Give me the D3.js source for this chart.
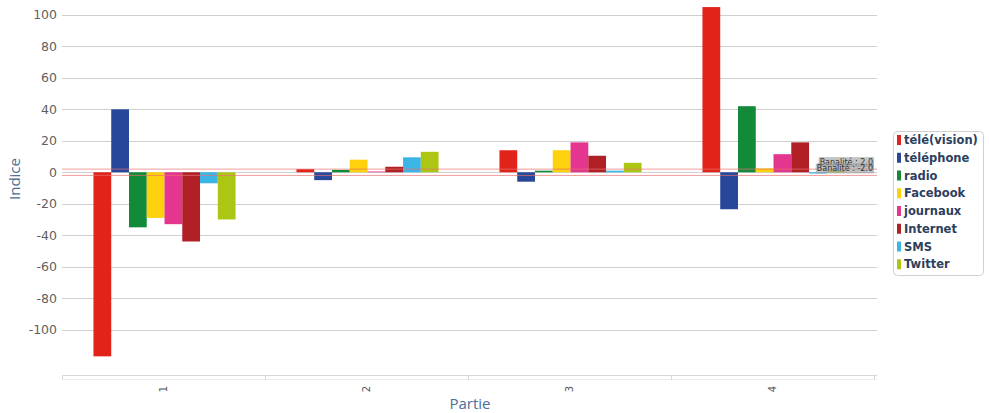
<!DOCTYPE html>
<html>
<head>
<meta charset="utf-8">
<script src="https://cdn.jsdelivr.net/npm/d3@7/dist/d3.min.js"></script>
<style>
  body { margin: 0; background: #fff; }
  text { font-family: "DejaVu Sans", sans-serif; }
</style>
</head>
<body>
<div id="chart"></div>
<script>
// categories (x) and series
var parties = ["1", "2", "3", "4"];
var series = ["télé(vision)", "téléphone", "radio", "Facebook", "journaux", "Internet", "SMS", "Twitter"];

// values per series, one per partie
var tele      = [-117, 2, 14, 105];
var telephone = [40, -5, -6, -23.5];
var radio     = [-35, 1.5, 1, 42];
var facebook  = [-29, 8, 14, 2.5];
var journaux  = [-33, 0.5, 19, 11.5];
var internet  = [-44, 3.5, 10.5, 19];
var sms       = [-7, 9.5, 1, -0.8];
var twitter   = [-30, 13, 6, 1];

var yTicks = [-100, -80, -60, -40, -20, 0, 20, 40, 60, 80, 100];
var banalite = [2.0, -2.0];

var colors = ["#e2231a", "#26479a", "#13893a", "#fdd10b", "#e4358f", "#b01f24", "#3bb5e6", "#adc614"];

var values = [tele, telephone, radio, facebook, journaux, internet, sms, twitter];

var svgWidth = 989;
var svgHeight = 413;

var margin = { top: 0, right: 115, bottom: 37, left: 62 };
var width = svgWidth - margin.left - margin.right;
var height = svgHeight - margin.top - margin.bottom;

var svg = d3.select("#chart")
    .append("svg")
    .attr("width", svgWidth)
    .attr("height", svgHeight);

var chartGroup = svg.append("g")
    .attr("transform", `translate(${margin.left}, ${margin.top})`);

// scales
var x0 = d3.scaleBand().domain(parties).range([0, width]).padding(0);
var x1 = d3.scaleBand().domain(series)
    .range([x0.bandwidth() * 0.155, x0.bandwidth() * 0.855]).padding(0);
var y = d3.scaleLinear().domain([-129.5, 109.5]).range([height, 0]);

// gridlines
chartGroup.append("g")
    .selectAll("line")
    .data(yTicks)
    .enter()
    .append("line")
    .attr("x1", 0)
    .attr("x2", width + 3)
    .attr("y1", d => Math.round(y(d)) + 0.5)
    .attr("y2", d => Math.round(y(d)) + 0.5)
    .attr("stroke", "#cfcfcf")
    .attr("stroke-width", 1);

// y tick labels
chartGroup.append("g")
    .selectAll("text")
    .data(yTicks)
    .enter()
    .append("text")
    .attr("x", -5)
    .attr("y", d => y(d))
    .attr("dy", "0.36em")
    .attr("text-anchor", "end")
    .attr("font-size", 12.5)
    .attr("fill", "#5f5f5f")
    .text(d => d);

// bars
var rows = [];
parties.forEach(function(p, i) {
    series.forEach(function(s, j) {
        rows.push({ partie: p, serie: s, value: values[j][i], color: colors[j] });
    });
});

chartGroup.append("g")
    .selectAll("rect")
    .data(rows)
    .enter()
    .append("rect")
    .attr("x", d => x0(d.partie) + x1(d.serie))
    .attr("width", x1.bandwidth())
    .attr("y", d => y(Math.max(0, d.value)))
    .attr("height", d => Math.abs(y(d.value) - y(0)))
    .attr("fill", d => d.color);

// banalite lines
var banGroup = chartGroup.append("g");
banGroup.selectAll("line")
    .data(banalite)
    .enter()
    .append("line")
    .attr("x1", 0)
    .attr("x2", width + 3)
    .attr("y1", d => y(d))
    .attr("y2", d => y(d))
    .attr("stroke", "#e8706f")
    .attr("stroke-opacity", 0.7)
    .attr("stroke-width", 1);

banalite.forEach(function(b) {
    var lbl = banGroup.append("g");
    var t = lbl.append("text")
        .attr("x", width - 1)
        .attr("y", y(b) - 4)
        .attr("text-anchor", "end")
        .attr("font-size", 8)
        .attr("fill", "#333")
        .text("Banalité : " + b.toFixed(1));
    var bb = t.node().getBBox();
    lbl.insert("rect", "text")
        .attr("x", bb.x - 1)
        .attr("y", bb.y)
        .attr("width", bb.width + 2)
        .attr("height", bb.height)
        .attr("fill", "#9a9a9a")
        .attr("fill-opacity", 0.6);
});

// x axis
var axisG = chartGroup.append("g").attr("transform", `translate(0, ${height})`);
axisG.append("line")
    .attr("x1", 0).attr("x2", width + 3)
    .attr("y1", -0.5).attr("y2", -0.5)
    .attr("stroke", "#d8d8d8");
axisG.append("line")
    .attr("x1", 0).attr("x2", width + 3)
    .attr("y1", 3.5).attr("y2", 3.5)
    .attr("stroke", "#ececec");
axisG.selectAll(".tick")
    .data(parties.concat(["end"]))
    .enter()
    .append("line")
    .attr("x1", (d, i) => Math.round(i * x0.step()) + 0.5)
    .attr("x2", (d, i) => Math.round(i * x0.step()) + 0.5)
    .attr("y1", -1)
    .attr("y2", 4)
    .attr("stroke", "#d8d8d8");
axisG.selectAll(".lbl")
    .data(parties)
    .enter()
    .append("text")
    .attr("transform", d => `translate(${x0(d) + x0.bandwidth() / 2}, 13) rotate(-90)`)
    .attr("text-anchor", "middle")
    .attr("dy", "0.35em")
    .attr("font-size", 10)
    .attr("fill", "#555")
    .text(d => d);

// axis titles
chartGroup.append("text")
    .attr("transform", "rotate(-90)")
    .attr("x", -179)
    .attr("y", -42)
    .attr("text-anchor", "middle")
    .attr("font-family", "'Open Sans', sans-serif")
    .attr("font-size", 15)
    .attr("fill", "#4b6d96")
    .style("font-family", "'Open Sans', sans-serif")
    .text("Indice");

chartGroup.append("text")
    .attr("x", width / 2 + 2)
    .attr("y", height + 33)
    .attr("text-anchor", "middle")
    .attr("font-size", 15)
    .attr("fill", "#4b6d96")
    .style("font-family", "'Open Sans', sans-serif")
    .text("Partie");

// legend
var legend = svg.append("g").attr("transform", "translate(893, 131)");
legend.append("rect")
    .attr("x", 0.5).attr("y", 0.5)
    .attr("width", 90).attr("height", 144)
    .attr("rx", 4)
    .attr("fill", "#fff")
    .attr("stroke", "#d0d0d0");

var items = legend.selectAll(".item")
    .data(series)
    .enter()
    .append("g")
    .attr("transform", (d, i) => `translate(4, ${9 + i * 17.75})`);
items.append("rect")
    .attr("x", 0).attr("y", -5)
    .attr("width", 4).attr("height", 10)
    .attr("fill", (d, i) => colors[i]);
items.append("text")
    .attr("x", 7)
    .attr("dy", "0.36em")
    .attr("font-size", 11.5)
    .attr("font-weight", "bold")
    .attr("fill", "#2c405e")
    .text(d => d);
</script>
</body>
</html>
